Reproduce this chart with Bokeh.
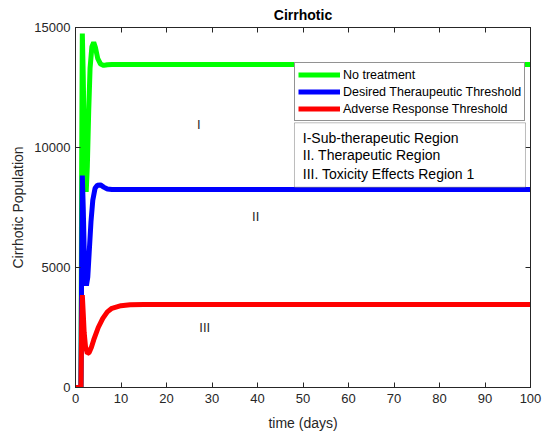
from bokeh.plotting import figure
from bokeh.models import (Range1d, FixedTicker, LinearAxis, Legend, LegendItem,
                          Label, BoxAnnotation)
from bokeh.embed import file_html
from bokeh.resources import INLINE

# ---- data ----
t_green = [0, 1.2, 1.35, 1.5, 1.7, 1.9, 2.1, 2.35, 2.6, 2.9, 3.2, 3.6, 4.0, 4.4,
           4.9, 5.5, 6.2, 7.0, 8.0, 10, 20, 40, 60, 80, 100]
v_green = [0, 0, 9000, 14750, 13000, 10500, 8800, 8150, 9200, 11500, 13300, 14200,
           14380, 14150, 13700, 13480, 13420, 13450, 13460, 13460, 13460, 13460,
           13460, 13460, 13460]

t_blue = [0, 1.2, 1.35, 1.5, 1.7, 1.9, 2.1, 2.4, 2.7, 3.0, 3.4, 3.8, 4.3, 4.8,
          5.5, 6.2, 7.0, 8.0, 10, 100]
v_blue = [0, 0, 5000, 8830, 7500, 5800, 4600, 4250, 4600, 5600, 6900, 7800, 8300,
          8430, 8440, 8350, 8270, 8250, 8250, 8250]

t_red = [0, 1.2, 1.35, 1.5, 1.7, 1.9, 2.2, 2.6, 3.0, 3.5, 4, 5, 6, 7, 8, 10, 12,
         15, 20, 100]
v_red = [0, 0, 2500, 3850, 3100, 2300, 1700, 1420, 1460, 1680, 1980, 2500, 2880,
         3150, 3300, 3410, 3445, 3460, 3460, 3460]

series_names = ["No treatment", "Desired Theraupeutic Threshold",
                "Adverse Response Threshold"]
series_colors = ["#00FF00", "#0000FF", "#FF0000"]

x_ticks = [0, 10, 20, 30, 40, 50, 60, 70, 80, 90, 100]
y_ticks = [0, 5000, 10000, 15000]

region_labels = ["I", "II", "III"]
region_x = [27.1, 39.6, 28.4]
region_y = [10960, 7110, 2510]

note_lines = ["I-Sub-therapeutic Region", "II. Therapeutic Region",
              "III. Toxicity Effects Region 1"]
note_x = 49.96
note_y = [10390, 9667, 8904]
note_box = dict(left=48.13, right=98.9, top=11029, bottom=8346)

FONT = "Liberation Sans"
AX = "#262626"

p = figure(width=548, height=433, output_backend="svg", toolbar_location=None,
           x_range=Range1d(0, 100), y_range=Range1d(0, 15000),
           min_border_left=75, min_border_right=18, min_border_top=27,
           min_border_bottom=46)
p.background_fill_color = "white"
p.border_fill_color = "white"
p.outline_line_color = AX
p.outline_line_width = 1
p.xgrid.visible = False
p.ygrid.visible = False

p.title.text = "Cirrhotic"
p.title.align = "center"
p.title.text_font = FONT
p.title.text_font_size = "14px"
p.title.text_font_style = "bold"
p.title.text_color = "black"
p.title.standoff = 9

for ax, ticks in ((p.xaxis[0], x_ticks), (p.yaxis[0], y_ticks)):
    ax.ticker = FixedTicker(ticks=ticks)
    ax.major_tick_in = 5
    ax.major_tick_out = 0
    ax.minor_tick_line_color = None
    ax.axis_line_color = AX
    ax.major_tick_line_color = AX
    ax.major_label_text_font = FONT
    ax.major_label_text_font_size = "13px"
    ax.major_label_text_color = AX
    ax.axis_label_text_font = FONT
    ax.axis_label_text_font_size = "14px"
    ax.axis_label_text_font_style = "normal"
    ax.axis_label_text_color = AX

p.xaxis.axis_label = "time (days)"
p.yaxis.axis_label = "Cirrhotic Population"
p.xaxis.major_label_standoff = 6
p.yaxis.major_label_standoff = 5
p.xaxis.axis_label_standoff = 9
p.yaxis.axis_label_standoff = 5

for loc, ticks in (("right", y_ticks), ("above", x_ticks)):
    a = LinearAxis(ticker=FixedTicker(ticks=ticks), major_tick_in=5,
                   major_tick_out=0, minor_tick_line_color=None,
                   axis_line_color=AX, major_tick_line_color=AX,
                   major_label_text_color=None, major_label_text_font_size="1px",
                   major_label_standoff=0)
    p.add_layout(a, loc)

renderers = []
for (tx, vy), c in zip(((t_green, v_green), (t_blue, v_blue), (t_red, v_red)),
                       series_colors):
    renderers.append(p.line(tx, vy, line_color=c, line_width=5))

legend = Legend(items=[LegendItem(label=n, renderers=[r])
                       for n, r in zip(series_names, renderers)],
                location=(219, 266), padding=3, spacing=0, margin=0,
                label_height=17, glyph_height=17, glyph_width=42,
                label_standoff=3, label_text_font=FONT,
                label_text_font_size="12.5px", label_text_color="black",
                border_line_color=AX, border_line_width=1,
                background_fill_color="white", background_fill_alpha=1)
p.add_layout(legend)

box = BoxAnnotation(**note_box, fill_color="white", fill_alpha=1,
                    line_color=AX, line_width=1)
p.add_layout(box)

for txt, yy in zip(note_lines, note_y):
    p.add_layout(Label(x=note_x, y=yy, text=txt, text_font=FONT,
                       text_font_size="14px", text_color="black",
                       text_baseline="middle", text_align="left"))

for txt, xx, yy in zip(region_labels, region_x, region_y):
    p.add_layout(Label(x=xx, y=yy, text=txt, text_font=FONT,
                       text_font_size="13px", text_color=AX,
                       text_baseline="middle", text_align="center"))

open("out.html", "w").write(file_html(p, INLINE))
